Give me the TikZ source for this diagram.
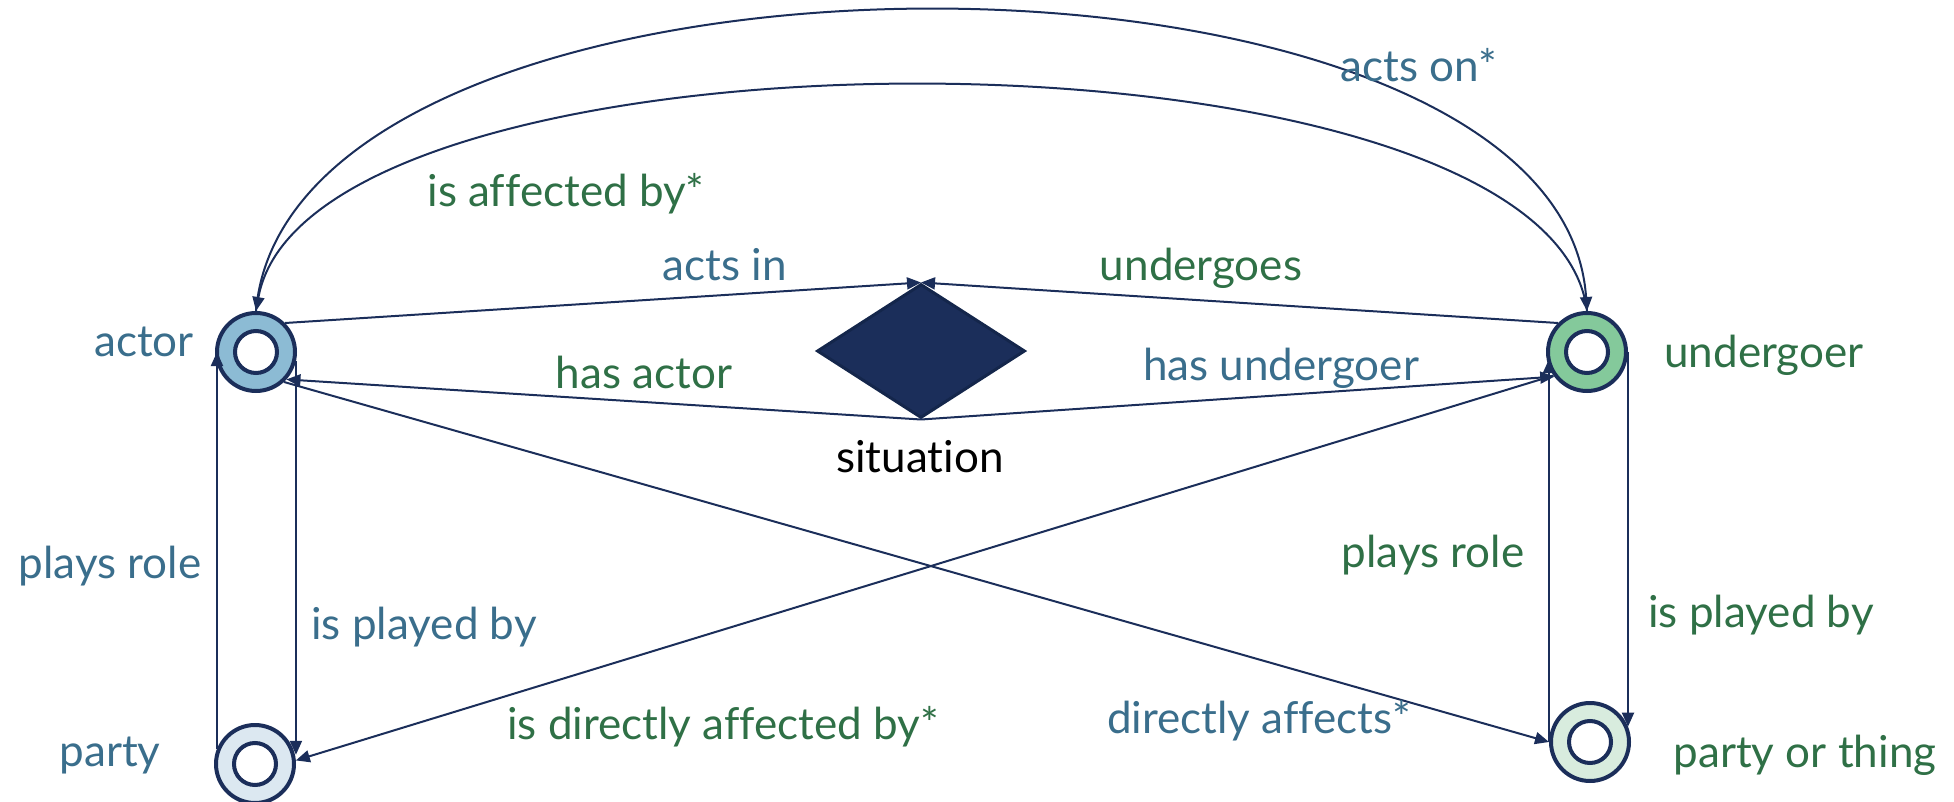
\documentclass[tikz,border=0pt]{standalone}
\usepackage{fontspec}
\setmainfont{Lato}[Ligatures=NoCommon]
\usetikzlibrary{arrows.meta,shapes.geometric}

\definecolor{navy}{HTML}{1B2E5A}
\definecolor{navydark}{HTML}{14264B}
\definecolor{txtblue}{HTML}{3A6E8C}
\definecolor{txtgreen}{HTML}{2F7046}
\definecolor{actorfill}{HTML}{8CBBD4}
\definecolor{undergoerfill}{HTML}{84C99B}
\definecolor{partyfill}{HTML}{DCE8F1}
\definecolor{thingfill}{HTML}{D8ECDE}

\begin{document}
\begin{tikzpicture}[x=0.5pt,y=-0.5pt,
  ring/.style={circle, draw=navy, line width=2pt, minimum size=39pt, inner sep=0pt,
    path picture={\draw[navy, line width=2pt, fill=white]
      (path picture bounding box.center) circle (10.5pt);}},
  link/.style={draw=navy, line width=1pt, -{Triangle[length=7pt,width=6pt]}},
  lbl/.style={anchor=base, inner sep=0pt, font=\fontsize{22}{26}\selectfont},
  bluetext/.style={lbl, text=txtblue},
  greentext/.style={lbl, text=txtgreen}
]
\useasboundingbox (0,0) rectangle (1954,802);

% role nodes
\node[ring, fill=actorfill]     (actor)     at (256,352)  {};
\node[ring, fill=undergoerfill] (undergoer) at (1587,352) {};
\node[ring, fill=partyfill]     (party)     at (255,764)  {};
\node[ring, fill=thingfill]     (thing)     at (1590,742) {};

% situation
\node[diamond, fill=navy, draw=navydark, line width=1.5pt, inner sep=0pt,
      minimum width=104pt, minimum height=67pt] (situation) at (921,351) {};

% arcs over the top
\draw[link] (undergoer.north) .. controls (1550,10) and (310,10) .. (actor.north);
\draw[link] (actor.north) .. controls (290,-90) and (1560,-90) .. (undergoer.north);

% links through the situation
\draw[link] (actor.45) -- (situation.north);
\draw[link] (undergoer.135) -- (situation.north);
\draw[link] (situation.south) -- (actor.-42);
\draw[link] (situation.south) -- (undergoer.-143);

% crossing links
\draw[link] (actor.-47) -- (thing.west);
\draw[link] (undergoer.-145) -- (party.5);

% vertical links
\draw[link] (party.158) -- (party.158 |- actor.west);
\draw[link] (actor.-13) -- (actor.-13 |- party.13);
\draw[link] (thing.west) -- (thing.west |- undergoer.190);
\draw[link] (undergoer.east) -- (undergoer.east |- thing.22);

% labels
\node[bluetext]  (tactson)   at (1419,82)  {acts on*};
\node[greentext] (taffected) at (566,207)  {is affected by*};
\node[bluetext]  (tactsin)   at (725,280)  {acts in};
\node[greentext] (tundergoes) at (1201,280) {undergoes};
\node[greentext] (thasactor) at (644,388)  {has actor};
\node[bluetext]  (thasund)   at (1281,380) {has undergoer};
\node[lbl, text=black] (tsit) at (920,472) {situation};
\node[bluetext]  (tactor)    at (144,357)  {actor};
\node[greentext] (tunder)    at (1764,367) {undergoer};
\node[bluetext]  (tplaysl)   at (110,578)  {plays role};
\node[bluetext]  (tplayedl)  at (424,639)  {is played by};
\node[greentext] (tplaysr)   at (1433,567) {plays role};
\node[greentext] (tplayedr)  at (1761,627) {is played by};
\node[greentext] (tdirby)    at (723,739)  {is directly affected by*};
\node[bluetext]  (tdiraff)   at (1259,733) {directly affects*};
\node[bluetext]  (tparty)    at (110,766)  {party};
\node[greentext] (tthing)    at (1805,767) {party or thing};
\end{tikzpicture}
\end{document}
